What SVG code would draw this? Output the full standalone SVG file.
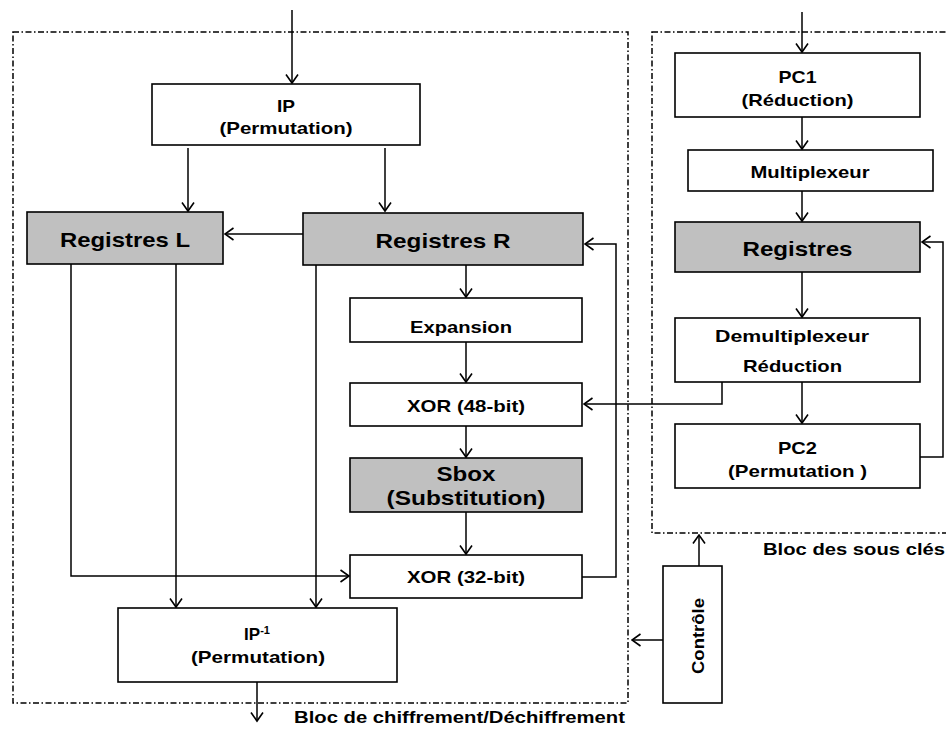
<svg xmlns="http://www.w3.org/2000/svg" width="946" height="729" viewBox="0 0 946 729">
<style>
.box{fill:#fff;stroke:#000;stroke-width:1.6}
.grey{fill:#c0c0c0;stroke:#000;stroke-width:1.6}
.frame{fill:none;stroke:#000;stroke-width:1.5;stroke-dasharray:6 2.5 1.5 2.5}
.c{fill:none;stroke:#000;stroke-width:1.5}
.a{marker-end:url(#arr)}
text{font-family:"Liberation Sans",Arial,sans-serif;font-weight:bold;fill:#000}
.s{font-size:17px;text-anchor:middle}
.l{font-size:21px;text-anchor:middle}
</style>
<defs>
<marker id="arr" markerUnits="userSpaceOnUse" viewBox="-1 -1 11 14" markerWidth="11" markerHeight="14" refX="8.5" refY="6" orient="auto">
<path d="M0,0 L8.5,6 L0,12" fill="none" stroke="#000" stroke-width="1.6"/>
</marker>
</defs>
<g id="frames">
<rect class="frame" x="13" y="32" width="615" height="671"/>
<rect class="frame" x="652" y="32" width="310" height="501"/>
<text x="625" y="723" style="font-size:17px;text-anchor:end" textLength="331" lengthAdjust="spacingAndGlyphs">Bloc de chiffrement/Déchiffrement</text>
<text x="763" y="555" style="font-size:17px" textLength="182" lengthAdjust="spacingAndGlyphs">Bloc des sous clés</text>
</g>
<g id="connectors">
<path class="c a" d="M292,10 V83"/>
<path class="c a" d="M188,148 V211"/>
<path class="c a" d="M385,148 V211"/>
<path class="c a" d="M303,234 H225"/>
<path class="c a" d="M466,265 V297"/>
<path class="c a" d="M466,342 V382"/>
<path class="c a" d="M466,426 V457"/>
<path class="c a" d="M466,512 V554"/>
<path class="c a" d="M71,264 V576 H349"/>
<path class="c a" d="M176,264 V607"/>
<path class="c a" d="M316,265 V607"/>
<path class="c a" d="M582,577 H616 V244 H585"/>
<path class="c a" d="M722,382 V404 H584"/>
<path class="c a" d="M257,682 V721"/>
<path class="c a" d="M802,12 V52"/>
<path class="c a" d="M802,117 V149"/>
<path class="c a" d="M802,191 V221"/>
<path class="c a" d="M802,272 V317"/>
<path class="c a" d="M802,382 V423"/>
<path class="c a" d="M920,457 H943 V242 H922"/>
<path class="c a" d="M699,566 V535"/>
<path class="c a" d="M663,640 H632"/>
</g>
<g id="ip">
<rect class="box" x="152" y="84" width="268" height="61"/>
<text class="s" x="286" y="112" textLength="18" lengthAdjust="spacingAndGlyphs">IP</text>
<text class="s" x="286" y="134" textLength="133" lengthAdjust="spacingAndGlyphs">(Permutation)</text>
</g>
<g id="regL">
<rect class="grey" x="27" y="212" width="196" height="52"/>
<text class="l" x="125" y="247" textLength="130" lengthAdjust="spacingAndGlyphs">Registres L</text>
</g>
<g id="regR">
<rect class="grey" x="303" y="213" width="280" height="52"/>
<text class="l" x="443" y="248" textLength="135" lengthAdjust="spacingAndGlyphs">Registres R</text>
</g>
<g id="expansion">
<rect class="box" x="350" y="298" width="232" height="44"/>
<text class="s" x="461" y="333" textLength="102" lengthAdjust="spacingAndGlyphs">Expansion</text>
</g>
<g id="xor48">
<rect class="box" x="350" y="383" width="232" height="43"/>
<text class="s" x="466" y="412" textLength="118" lengthAdjust="spacingAndGlyphs">XOR (48-bit)</text>
</g>
<g id="sbox">
<rect class="grey" x="350" y="458" width="232" height="54"/>
<text class="l" x="466" y="481" textLength="59" lengthAdjust="spacingAndGlyphs">Sbox</text>
<text class="l" x="466" y="505" textLength="159" lengthAdjust="spacingAndGlyphs">(Substitution)</text>
</g>
<g id="xor32">
<rect class="box" x="350" y="555" width="232" height="43"/>
<text class="s" x="466" y="583" textLength="118" lengthAdjust="spacingAndGlyphs">XOR (32-bit)</text>
</g>
<g id="ipinv">
<rect class="box" x="118" y="608" width="279" height="74"/>
<text class="s" x="257" y="640">IP<tspan font-size="11" dy="-6">-1</tspan></text>
<text class="s" x="258" y="663" textLength="134" lengthAdjust="spacingAndGlyphs">(Permutation)</text>
</g>
<g id="pc1">
<rect class="box" x="675" y="53" width="245" height="64"/>
<text class="s" x="797.5" y="83" textLength="38" lengthAdjust="spacingAndGlyphs">PC1</text>
<text class="s" x="797.5" y="106" textLength="112" lengthAdjust="spacingAndGlyphs">(Réduction)</text>
</g>
<g id="mux">
<rect class="box" x="688" y="150" width="245" height="41"/>
<text class="s" x="810" y="178" textLength="119" lengthAdjust="spacingAndGlyphs">Multiplexeur</text>
</g>
<g id="regK">
<rect class="grey" x="675" y="222" width="245" height="50"/>
<text class="l" x="797.5" y="256" textLength="110" lengthAdjust="spacingAndGlyphs">Registres</text>
</g>
<g id="demux">
<rect class="box" x="675" y="318" width="245" height="64"/>
<text class="s" x="792" y="342" textLength="154" lengthAdjust="spacingAndGlyphs">Demultiplexeur</text>
<text class="s" x="792.5" y="372" textLength="99" lengthAdjust="spacingAndGlyphs">Réduction</text>
</g>
<g id="pc2">
<rect class="box" x="675" y="424" width="245" height="64"/>
<text class="s" x="797.5" y="454" textLength="39" lengthAdjust="spacingAndGlyphs">PC2</text>
<text class="s" x="797.5" y="477" textLength="139" lengthAdjust="spacingAndGlyphs">(Permutation )</text>
</g>
<g id="controle">
<rect class="box" x="663" y="566" width="59" height="137"/>
<text class="s" transform="translate(704,636) rotate(-90)" x="0" y="0" textLength="76" lengthAdjust="spacingAndGlyphs">Contrôle</text>
</g>
</svg>
